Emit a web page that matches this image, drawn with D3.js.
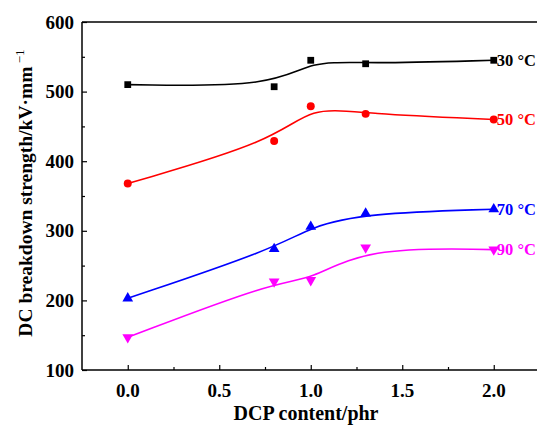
<!DOCTYPE html>
<head>
    <script src="https://cdn.jsdelivr.net/npm/d3@7"></script>
</head>
<style>
body { margin: 0; background: #fff; }
text { font-family: "Liberation Serif", "Times New Roman", serif; font-weight: bold; }
</style>
<body>
    <svg></svg>
</body>
<script>

    // Data
    var dcp = [0, 0.8, 1.0, 1.3, 2.0];
    var series = ["30 °C", "50 °C", "70 °C", "90 °C"];
    var s30 = [510, 507, 545, 540, 545];
    var s50 = [368, 429, 479, 468, 460];
    var s70 = [203, 274, 306, 325, 331];
    var s90 = [147, 227, 229, 276, 273];
    var colors = ["#000000", "#ff0000", "#0000ff", "#ff00ff"];
    var shapes = ["square", "circle", "up", "down"];
    var yTicks = [100, 200, 300, 400, 500, 600];
    var xTicks = [0, 0.5, 1.0, 1.5, 2.0];

    var width = 537, height = 432;
    var margin = { left: 82, top: 22, bottom: 62 };

    var svg = d3.select('svg').attr('width', width).attr('height', height);

    // x goes past the picture's right edge, like the original
    var x = d3.scaleLinear().domain([-0.25, 2.3]).range([margin.left, margin.left + 2.55 * 183]);
    var y = d3.scaleLinear().domain([100, 600]).range([height - margin.bottom, margin.top]);

    var g = svg.append('g');

    // frame: left, bottom, top
    g.append('line').attr('x1', x(-0.25)).attr('x2', x(-0.25)).attr('y1', y(100)).attr('y2', y(600))
        .attr('stroke', '#000').attr('stroke-width', 1.5);
    g.append('line').attr('x1', x(-0.25)).attr('x2', x(2.3)).attr('y1', y(100)).attr('y2', y(100))
        .attr('stroke', '#000').attr('stroke-width', 1.5);
    g.append('line').attr('x1', x(-0.25)).attr('x2', x(2.3)).attr('y1', y(600)).attr('y2', y(600))
        .attr('stroke', '#000').attr('stroke-width', 1.5);

    // y axis, ticks inward
    var yAxis = d3.axisRight(y).tickValues(yTicks).tickSize(5).tickFormat('');
    var yMinor = d3.axisRight(y).tickValues([150, 250, 350, 450, 550]).tickSize(3).tickFormat('');
    [yAxis, yMinor].forEach(function (a) {
        var ax = g.append('g').attr('transform', 'translate(' + x(-0.25) + ',0)').call(a);
        ax.select('.domain').remove();
        ax.selectAll('line').attr('stroke-width', 1.2);
    });
    g.selectAll('.ylab').data(yTicks).enter().append('text')
        .attr('x', x(-0.25) - 8).attr('y', function (d) { return y(d); })
        .attr('dy', '0.35em').attr('text-anchor', 'end').attr('font-size', 19)
        .text(function (d) { return d; });

    // x axis, ticks inward
    var xAxis = d3.axisTop(x).tickValues(xTicks).tickSize(5).tickFormat('');
    var xMinor = d3.axisTop(x).tickValues([0.25, 0.75, 1.25, 1.75]).tickSize(3).tickFormat('');
    [xAxis, xMinor].forEach(function (a) {
        var ax = g.append('g').attr('transform', 'translate(0,' + y(100) + ')').call(a);
        ax.select('.domain').remove();
        ax.selectAll('line').attr('stroke-width', 1.2);
    });
    g.selectAll('.xlab').data(xTicks).enter().append('text')
        .attr('x', function (d) { return x(d); }).attr('y', y(100) + 27)
        .attr('text-anchor', 'middle').attr('font-size', 19)
        .text(function (d) { return d.toFixed(1); });

    // titles
    svg.append('text').attr('x', 306).attr('y', 420).attr('text-anchor', 'middle')
        .attr('font-size', 20).text('DCP content/phr');
    var yt = svg.append('text').attr('transform', 'translate(32,' + 193 + ')rotate(-90)')
        .attr('text-anchor', 'middle').attr('font-size', 19.5);
    yt.append('tspan').text('DC breakdown strength/kV·mm');
    yt.append('tspan').attr('dy', -8).attr('font-size', 13).attr('font-weight', 'normal').text(' −1');

    // curves and markers
    var all = [s30, s50, s70, s90];
    var line = d3.line().curve(d3.curveBasis)
        .x(function (d, i) { return x(dcp[i]); })
        .y(function (d) { return y(d); });

    var sym = {
        square: d3.symbol().type(d3.symbolSquare).size(46),
        circle: d3.symbol().type(d3.symbolCircle).size(50),
        up: d3.symbol().type(d3.symbolTriangle).size(50),
        down: d3.symbol().type(d3.symbolTriangle).size(50)
    };

    all.forEach(function (vals, k) {
        g.append('path').attr('d', line(vals)).attr('fill', 'none')
            .attr('stroke', colors[k]).attr('stroke-width', 1.6);
        g.selectAll('.m' + k).data(vals).enter().append('path')
            .attr('transform', function (d, i) {
                return 'translate(' + x(dcp[i]) + ',' + y(d) + ')' + (shapes[k] === 'down' ? 'rotate(180)' : '');
            })
            .attr('d', sym[shapes[k]]()).attr('fill', colors[k]);
        g.append('text').attr('x', x(dcp[4]) + 3).attr('y', y(vals[4]))
            .attr('dy', '0.35em').attr('font-size', 16.5).attr('fill', colors[k])
            .text(series[k]);
    });

</script>
